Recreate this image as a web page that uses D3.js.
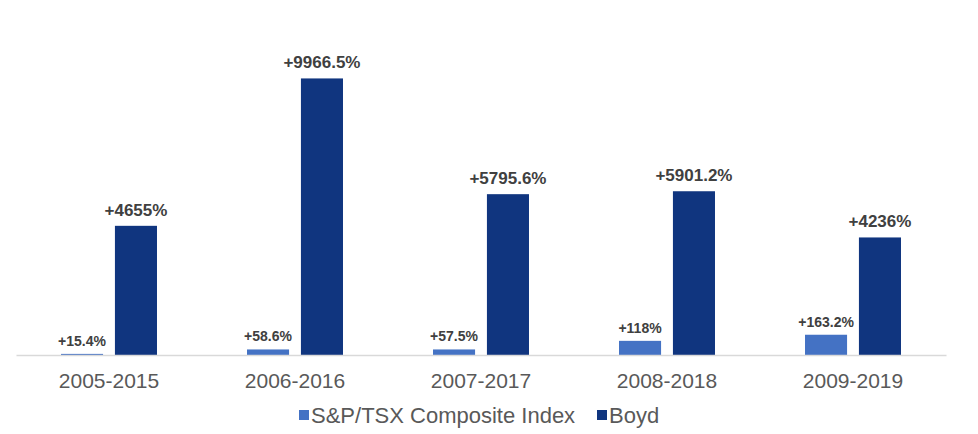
<!DOCTYPE html>
<html>
<head>
<meta charset="utf-8">
<script src="https://cdn.jsdelivr.net/npm/d3@7"></script>
<style>
  html, body { margin: 0; padding: 0; background: #fff; }
  svg { display: block; font-family: "Liberation Sans", Arial, sans-serif; }
</style>
</head>
<body>
<svg id="chart" width="978" height="434"></svg>
<script>
// ---- data ----
const categories = ["2005-2015", "2006-2016", "2007-2017", "2008-2018", "2009-2019"];
const seriesNames = ["S&P/TSX Composite Index", "Boyd"];
// Boyd total return (%)
const boydValues = [4655, 9966.5, 5795.6, 5901.2, 4236];
const boydLabels = ["+4655%", "+9966.5%", "+5795.6%", "+5901.2%", "+4236%"];
// S&P/TSX bar heights as drawn (in the chart's plotted units)
const spValues = [40, 200, 200, 510, 730];
const spLabels = ["+15.4%", "+58.6%", "+57.5%", "+118%", "+163.2%"];

const colors = ["#4472C4", "#10357F"];

const svg = d3.select("#chart");
const left = 16, right = 946, baseY = 355;

const x0 = d3.scaleBand().domain(categories).range([left, right])
  .paddingInner(0.484).paddingOuter(0.242);
const x1 = d3.scaleBand().domain([0, 1]).range([0, x0.bandwidth()]).paddingInner(0.22);
const y = d3.scaleLinear().domain([0, 12000]).range([baseY, baseY - 333]);

const rows = categories.map((c, i) => ({
  cat: c,
  vals: [
    { s: 0, v: spValues[i], label: spLabels[i] },
    { s: 1, v: boydValues[i], label: boydLabels[i] }
  ]
}));

const g = svg.append("g");
const groups = g.selectAll("g.cat").data(rows).join("g")
  .attr("class", "cat")
  .attr("transform", d => `translate(${x0(d.cat)},0)`);

groups.selectAll("rect").data(d => d.vals).join("rect")
  .attr("x", d => x1(d.s))
  .attr("width", x1.bandwidth())
  .attr("y", d => y(d.v))
  .attr("height", d => y(0) - y(d.v))
  .attr("fill", d => colors[d.s]);

groups.selectAll("text.lbl").data(d => d.vals).join("text")
  .attr("class", "lbl")
  .attr("x", d => x1(d.s) + x1.bandwidth() / 2)
  .attr("y", d => y(d.v) - (d.s === 1 ? 10 : 8))
  .attr("text-anchor", "middle")
  .attr("font-weight", "bold")
  .attr("font-size", d => d.s === 1 ? 17 : 14)
  .attr("fill", "#404040")
  .text(d => d.label);

// baseline axis
const xAxis = d3.axisBottom(x0).tickSize(0).tickPadding(18);
const ax = svg.append("g").attr("transform", `translate(0,${baseY})`).call(xAxis);
ax.select(".domain").attr("stroke", "#D9D9D9").attr("stroke-width", 1.5);
ax.selectAll("text").attr("font-size", 21).attr("fill", "#595959")
  .attr("font-family", "'Liberation Sans', Arial, sans-serif");

// legend
const legend = svg.append("g").attr("transform", "translate(0,423)");
const legX = [299, 597];
seriesNames.forEach((n, i) => {
  legend.append("rect").attr("x", legX[i]).attr("y", -13).attr("width", 10).attr("height", 10)
    .attr("fill", colors[i]);
  legend.append("text").attr("x", legX[i] + 12).attr("y", 0)
    .attr("font-size", 22).attr("fill", "#595959").text(n);
});
</script>
</body>
</html>
